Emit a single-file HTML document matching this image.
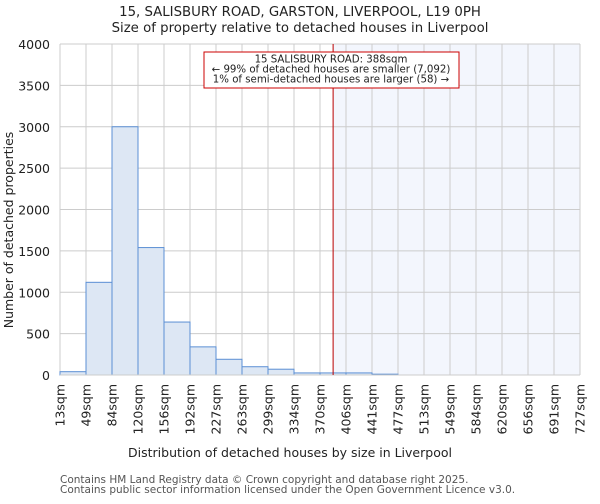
<!DOCTYPE html>
<html><head><meta charset="utf-8"><style>
body{margin:0;background:#fff;font-family:"DejaVu Sans","Liberation Sans",sans-serif}
svg text{font-family:"DejaVu Sans","Liberation Sans",sans-serif;fill:#222}
</style></head><body>
<svg id="c" width="600" height="500" xmlns="http://www.w3.org/2000/svg">
<text x="300" y="16" text-anchor="middle" font-size="13.3">15, SALISBURY ROAD, GARSTON, LIVERPOOL, L19 0PH</text>
<text x="300" y="32" text-anchor="middle" font-size="13.3">Size of property relative to detached houses in Liverpool</text>
<text transform="translate(13,230) rotate(-90)" text-anchor="middle" font-size="12.5">Number of detached properties</text>
<text x="290" y="457" text-anchor="middle" font-size="12.5">Distribution of detached houses by size in Liverpool</text>
<text x="60" y="483" font-size="10.5" style="fill:#555">Contains HM Land Registry data © Crown copyright and database right 2025.</text>
<text x="60" y="493" font-size="10.5" style="fill:#555">Contains public sector information licensed under the Open Government Licence v3.0.</text>
</svg>
<script>
const edges=[13,49,84,120,156,192,227,263,299,334,370,406,441,477,513,549,584,620,656,691,727];
const counts=[40,1120,3000,1540,640,340,190,100,70,25,25,25,10,0,0,0,0,0,0,0];
const yTicks=[0,500,1000,1500,2000,2500,3000,3500,4000];
const marker=388;
const L=60,R=580,T=44,B=375,NS="http://www.w3.org/2000/svg";
const svg=document.getElementById('c');
const nb=counts.length;
const xi=i=>L+(R-L)*i/nb;
const xv=v=>L+(R-L)*(v-edges[0])/(edges[edges.length-1]-edges[0]);
const y=v=>B-(B-T)*v/4000;
function mk(t,a){const e=document.createElementNS(NS,t);for(const k in a)e.setAttribute(k,a[k]);svg.appendChild(e);return e;}
let e=mk('rect',{x:xv(marker),y:T,width:R-xv(marker),height:B-T,fill:'#f3f6fd'});


yTicks.forEach(t=>{let g=mk('line',{x1:L,x2:R,y1:y(t),y2:y(t),stroke:'#ccc','stroke-width':1});


let tx=mk('text',{x:L-10,y:y(t)+5,'text-anchor':'end','font-size':12.5});tx.textContent=t;

});
edges.forEach((v,i)=>{let g=mk('line',{x1:xi(i),x2:xi(i),y1:T,y2:B,stroke:'#ccc','stroke-width':1});


let tx=mk('text',{transform:`translate(${xi(i)+4.5},384) rotate(-90)`,'text-anchor':'end','font-size':12.5});tx.textContent=v+'sqm';

});
counts.forEach((c,i)=>{if(c<=0)return;let b=mk('rect',{x:xi(i),y:y(c),width:xi(i+1)-xi(i),height:B-y(c),fill:'#dde7f4',stroke:'#5b8fd4','stroke-width':1});

});
let ax=mk('line',{x1:L,x2:R,y1:B,y2:B,stroke:'#ccc'});


let ml=mk('line',{x1:xv(marker),x2:xv(marker),y1:T,y2:B,stroke:'#b00','stroke-width':1});


let box=mk('rect',{x:204,y:52,width:255,height:36,fill:'#fff',stroke:'#c00','stroke-width':1});


['15 SALISBURY ROAD: 388sqm','← 99% of detached houses are smaller (7,092)','1% of semi-detached houses are larger (58) →'].forEach((s,i)=>{
let t=mk('text',{x:331,y:62.5+i*10,'text-anchor':'middle','font-size':10.2});t.textContent=s;

});
</script>
</body></html>
